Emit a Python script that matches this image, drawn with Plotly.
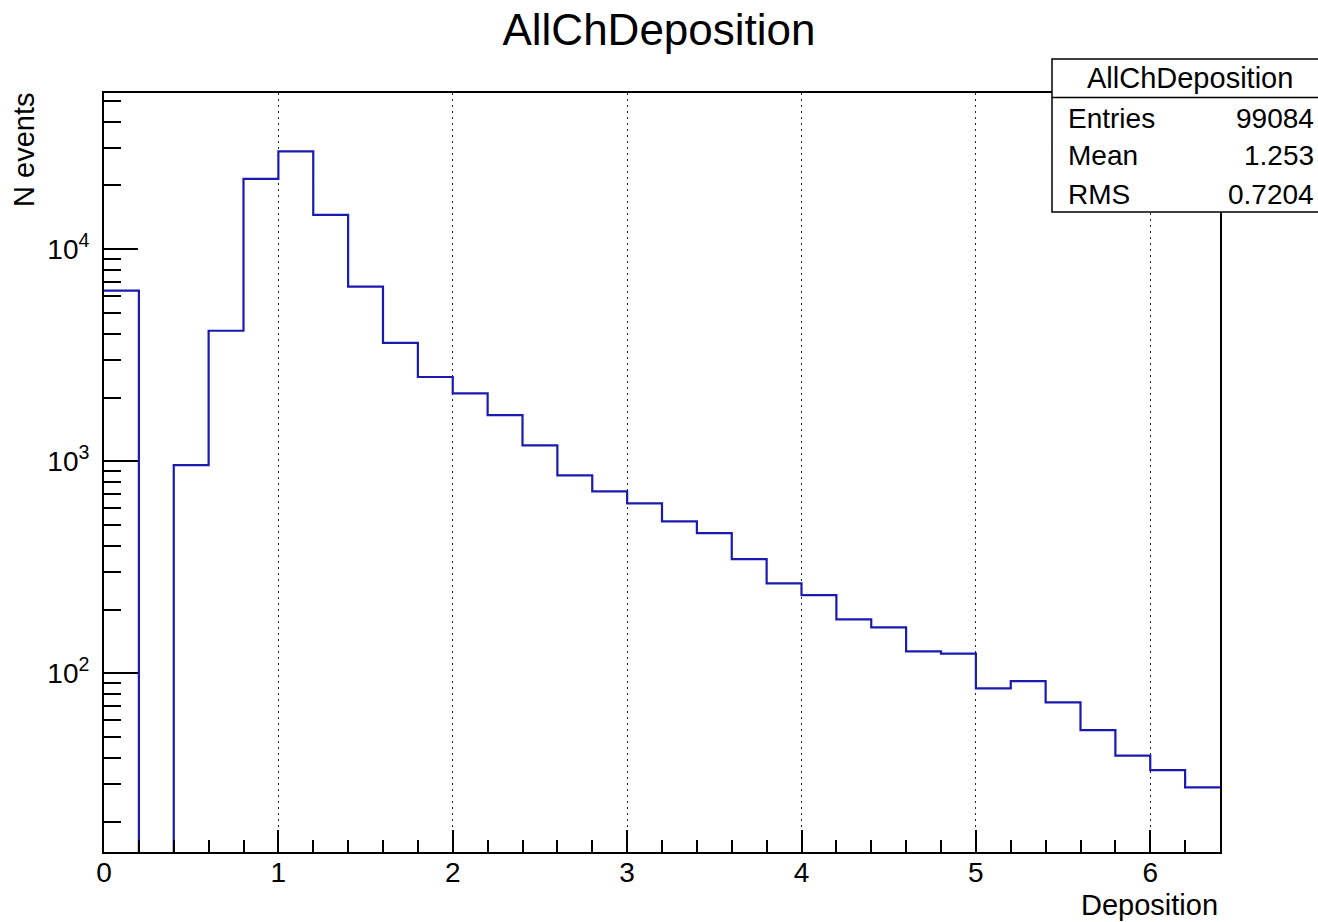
import plotly.graph_objects as go

# ---------------- data ----------------
title_text = "AllChDeposition"
x_label = "Deposition"
y_label = "N events"
bin_edges = [0.0, 0.2, 0.4, 0.6, 0.8, 1.0, 1.2, 1.4, 1.6, 1.8, 2.0, 2.2, 2.4, 2.6, 2.8, 3.0,
             3.2, 3.4, 3.6, 3.8, 4.0, 4.2, 4.4, 4.6, 4.8, 5.0, 5.2, 5.4, 5.6, 5.8, 6.0, 6.2, 6.4]
counts = [6380, 0, 961, 4130, 21470, 28970, 14520, 6670, 3620, 2500, 2094, 1653, 1189, 859, 722, 634,
          521, 459, 346, 266, 234, 180, 165, 127, 124, 85, 92, 73, 54, 41, 35, 29]
stat_names = ["Entries", "Mean", "RMS"]
stat_values = ["99084", "1.253", "0.7204"]
y_major_ticks = [100, 1000, 10000]
y_major_text = ["10<sup>2</sup>", "10<sup>3</sup>", "10<sup>4</sup>"]
y_minor_ticks = [m * 10 ** e for e in range(1, 5) for m in range(2, 10)]
x_range = [0, 6.4]
y_range_log = [1.158, 4.737]

# ---------------- figure ----------------
FONT = "Liberation Sans, Arial, Helvetica, sans-serif"
LINE_BLUE = "#1a1ab0"

# log axis cannot show zero: floor empty bins below the visible range
y_plot = [c if c > 0 else 1 for c in counts] + [counts[-1]]

fig = go.Figure()
fig.add_trace(go.Scatter(
    x=bin_edges, y=y_plot, mode="lines", line=dict(shape="hv", color=LINE_BLUE, width=2.2),
    showlegend=False, hoverinfo="skip"))
# same data attached to the overlay axis that carries the minor log ticks (invisible)
fig.add_trace(go.Scatter(
    x=bin_edges, y=y_plot, yaxis="y2", mode="lines",
    line=dict(shape="hv", color="rgba(0,0,0,0)", width=0),
    showlegend=False, hoverinfo="skip"))

W, H = 1318, 922
L, R, T, B = 104, 98, 93, 70
pw, ph = W - L - R, H - T - B


def px_x(px):
    return (px - L) / pw


def px_y(py):
    return (H - B - py) / ph


fig.update_layout(
    width=W, height=H,
    margin=dict(l=L, r=R, t=T, b=B, pad=0),
    paper_bgcolor="white", plot_bgcolor="white",
    font=dict(family=FONT, color="black"),
    title=dict(text=title_text, x=0.5, xref="container", xanchor="center",
               y=1 - 30 / H, yref="container", yanchor="middle",
               font=dict(size=44, family=FONT, color="black")),
    xaxis=dict(
        range=x_range, tick0=0, dtick=1, ticks="inside", ticklen=22, tickwidth=1.5, tickcolor="black",
        showline=True, linecolor="black", linewidth=2, mirror=True,
        showgrid=True, gridcolor="#222", gridwidth=1, griddash="2px,4px",
        zeroline=False, tickfont=dict(size=28, family=FONT, color="black"),
        ticklabelstandoff=-6,
        minor=dict(dtick=0.2, tick0=0, ticks="inside", ticklen=12, tickwidth=1.5, tickcolor="black",
                   showgrid=False),
    ),
    yaxis=dict(
        type="log", range=y_range_log, tickvals=y_major_ticks, ticktext=y_major_text,
        ticks="inside", ticklen=34, tickwidth=1.5, tickcolor="black",
        showline=True, linecolor="black", linewidth=2, mirror=True,
        showgrid=False, zeroline=False, tickfont=dict(size=28, family=FONT, color="black"),
        ticklabelstandoff=7,
    ),
    yaxis2=dict(
        type="log", range=y_range_log, overlaying="y", side="left", anchor="x",
        tickvals=y_minor_ticks, ticks="inside", ticklen=17, tickwidth=1.5, tickcolor="black",
        showticklabels=False, showgrid=False, showline=False, zeroline=False,
    ),
)

# axis titles (ROOT style: right / top aligned)
fig.add_annotation(text=x_label, xref="paper", yref="paper", x=1, y=px_y(905),
                   xanchor="right", yanchor="middle", showarrow=False,
                   font=dict(size=29, family=FONT, color="black"))
fig.add_annotation(text=y_label, xref="paper", yref="paper", x=px_x(24), y=px_y(150),
                   xanchor="center", yanchor="middle", textangle=-90, showarrow=False,
                   font=dict(size=29, family=FONT, color="black"))

# stats box
bx0, bx1, by0, by1 = px_x(1052), px_x(1322), px_y(212), px_y(59)
fig.add_shape(type="rect", xref="paper", yref="paper", x0=bx0, x1=bx1, y0=by0, y1=by1,
              line=dict(color="black", width=1.5), fillcolor="white", layer="above")
fig.add_shape(type="line", xref="paper", yref="paper", x0=bx0, x1=bx1, y0=px_y(97.5), y1=px_y(97.5),
              line=dict(color="black", width=1.5), layer="above")
fig.add_annotation(text=title_text, xref="paper", yref="paper", x=px_x(1190), y=px_y(78),
                   xanchor="center", yanchor="middle", showarrow=False,
                   font=dict(size=29, family=FONT, color="black"))
row_y = [118, 156, 194]
for name, val, yy in zip(stat_names, stat_values, row_y):
    fig.add_annotation(text=name, xref="paper", yref="paper", x=px_x(1066), y=px_y(yy),
                       xanchor="left", yanchor="middle", showarrow=False,
                       font=dict(size=28, family=FONT, color="black"))
    fig.add_annotation(text=val, xref="paper", yref="paper", x=px_x(1316), y=px_y(yy),
                       xanchor="right", yanchor="middle", showarrow=False,
                       font=dict(size=28, family=FONT, color="black"))

fig.write_html("out.html", config={"displayModeBar": False},
               post_script="document.body.style.margin='0';document.body.style.overflow='hidden';")
